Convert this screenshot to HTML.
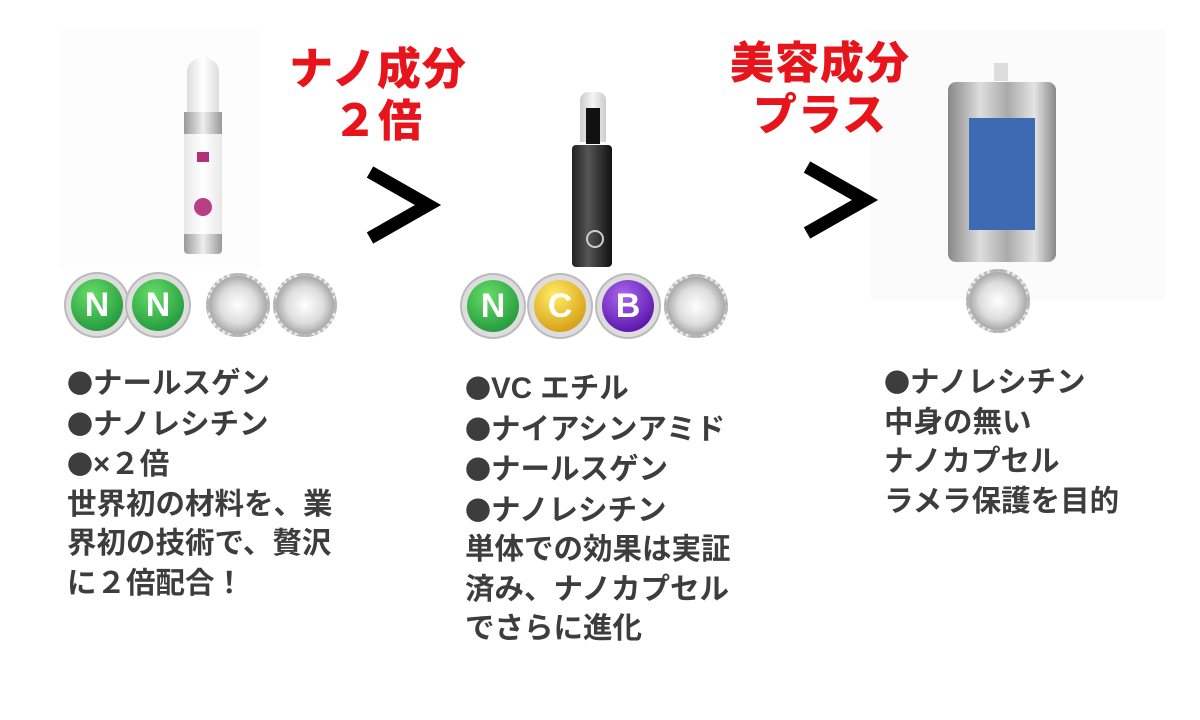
<!DOCTYPE html>
<html><head><meta charset="utf-8"><style>
body{margin:0;width:1200px;height:720px;background:#fff;position:relative;overflow:hidden;font-family:"Liberation Sans","Noto Sans CJK JP",sans-serif}
.a{position:absolute}
.red{color:#e8141b;font-weight:900;font-size:44px;line-height:52px;text-align:center;letter-spacing:1px}
.t{position:absolute;color:#3d3d3d;font-weight:700;font-size:29.5px;line-height:39.5px;white-space:nowrap}
.b{font-family:"Noto Sans CJK JP",sans-serif;font-size:26px}
.ball{position:absolute;width:64px;height:64px;border-radius:50%;background:radial-gradient(circle at 50% 50%,#fff 0,#ddd 45%,#aaa 70%,#eee 72%,#ccc 100%);border:3px dotted #bbb;box-sizing:border-box}
.cb{position:absolute;width:52px;height:52px;border-radius:50%;color:#fff;font-weight:900;font-size:34px;line-height:52px;text-align:center;box-shadow:0 0 0 5px #ddd,0 0 0 7px #bbb}
</style></head><body>
<div class="a" style="left:60px;top:30px;width:200px;height:240px;background:#fdfdfd"></div>
<div class="a" style="left:870px;top:30px;width:295px;height:270px;background:#fbfbfb"></div>
<!-- pink bottle -->
<div class="a" style="left:187px;top:58px;width:32px;height:55px;border-radius:14px 14px 2px 2px;background:linear-gradient(90deg,#ddd,#fff,#ddd)"></div>
<div class="a" style="left:184px;top:112px;width:38px;height:22px;background:linear-gradient(90deg,#999,#eee,#999)"></div>
<div class="a" style="left:184px;top:134px;width:38px;height:100px;background:linear-gradient(90deg,#e8e8e8,#fff,#e8e8e8)"></div>
<div class="a" style="left:197px;top:152px;width:12px;height:10px;background:#b0307a"></div>
<div class="a" style="left:194px;top:198px;width:18px;height:18px;border-radius:50%;background:#b83f86"></div>
<div class="a" style="left:184px;top:234px;width:38px;height:20px;background:linear-gradient(90deg,#999,#eee,#999);border-radius:0 0 4px 4px"></div>
<!-- black bottle -->
<div class="a" style="left:580px;top:92px;width:26px;height:50px;border-radius:8px 8px 0 0;background:linear-gradient(90deg,#ccc,#f5f5f5,#ccc)"></div>
<div class="a" style="left:586px;top:108px;width:14px;height:36px;background:#111"></div>
<div class="a" style="left:572px;top:145px;width:40px;height:122px;border-radius:4px;background:linear-gradient(90deg,#222,#555 40%,#111)"></div>
<div class="a" style="left:586px;top:230px;width:14px;height:14px;border-radius:50%;border:2px solid #ccc"></div>
<!-- pouch -->
<div class="a" style="left:994px;top:63px;width:14px;height:18px;background:#ddd"></div>
<div class="a" style="left:948px;top:82px;width:108px;height:180px;border-radius:8px;background:linear-gradient(90deg,#888,#ddd 30%,#aaa 55%,#e4e4e4 80%,#888)"></div>
<div class="a" style="left:969px;top:118px;width:66px;height:112px;background:#3d6bb3"></div>
<!-- red labels -->
<div class="a red" style="left:280px;top:44px;width:196px">ナノ成分<br>２倍</div>
<div class="a red" style="left:720px;top:38px;width:200px">美容成分<br>プラス</div>
<svg class="a" style="left:0;top:0" width="1200" height="720">
<polyline points="370,172 428,205 370,238" fill="none" stroke="#000" stroke-width="13" stroke-linejoin="miter"/>
<polyline points="807,167 865,200 807,233" fill="none" stroke="#000" stroke-width="13" stroke-linejoin="miter"/>
</svg>
<!-- balls -->
<div class="cb" style="left:71px;top:279px;background:radial-gradient(circle at 40% 30%,#6d6,#183)">N</div>
<div class="cb" style="left:132px;top:279px;background:radial-gradient(circle at 40% 30%,#6d6,#183)">N</div>
<div class="ball" style="left:206px;top:273px"></div>
<div class="ball" style="left:273px;top:273px"></div>
<div class="cb" style="left:467px;top:280px;background:radial-gradient(circle at 40% 30%,#6d6,#183)">N</div>
<div class="cb" style="left:534px;top:280px;background:radial-gradient(circle at 40% 30%,#fe6,#c80)">C</div>
<div class="cb" style="left:602px;top:280px;background:radial-gradient(circle at 40% 30%,#a6e,#409)">B</div>
<div class="ball" style="left:664px;top:274px"></div>
<div class="ball" style="left:966px;top:269px"></div>
<!-- texts -->
<div class="t" style="left:67px;top:363px"><span class="b">●</span>ナールスゲン<br><span class="b">●</span>ナノレシチン<br><span class="b">●</span>×２倍<br>世界初の材料を、業<br>界初の技術で、贅沢<br>に２倍配合！</div>
<div class="t" style="left:465px;top:368px"><span class="b">●</span>VC エチル<br><span class="b">●</span>ナイアシンアミド<br><span class="b">●</span>ナールスゲン<br><span class="b">●</span>ナノレシチン<br>単体での効果は実証<br>済み、ナノカプセル<br>でさらに進化</div>
<div class="t" style="left:884px;top:362px"><span class="b">●</span>ナノレシチン<br>中身の無い<br>ナノカプセル<br>ラメラ保護を目的</div>
</body></html>
